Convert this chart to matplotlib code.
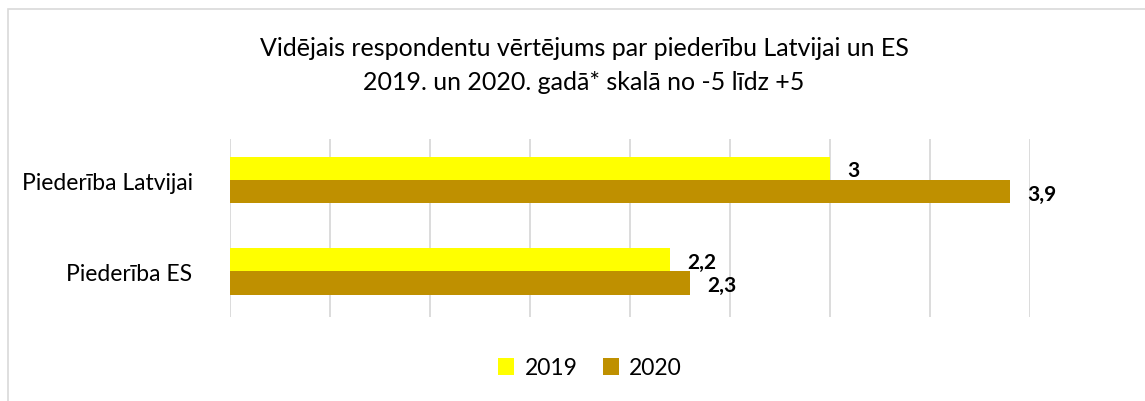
import numpy as np
import matplotlib.pyplot as plt
from matplotlib.patches import Rectangle

# data
categories = ["Piederība Latvijai", "Piederība ES"]
years = ["2019", "2020"]
values_2019 = [3.0, 2.2]
values_2020 = [3.9, 2.3]
colors = ["#FFFF00", "#BF9000"]

plt.rcParams['font.family'] = ['Lato', 'DejaVu Sans']

fig = plt.figure(figsize=(11.45, 4.02), dpi=100)
W, H = 1145, 402

# outer chart frame (runs off the right and bottom edges)
fig.patches.append(Rectangle((8 / W, -0.1), 1.2, 1.1 - 10 / H, transform=fig.transFigure,
                             fill=False, edgecolor="#d9d9d9", linewidth=1.2))

ax = fig.add_axes([230 / W, 1 - 318 / H, 800 / W, 178 / H])

y = np.arange(len(categories))
h = 0.255
series = [values_2019, values_2020]
for i, (vals, col, yr) in enumerate(zip(series, colors, years)):
    pos = y - h / 2 + i * h
    ax.barh(pos, vals, height=h, color=col, label=yr, zorder=3)
    for p, v in zip(pos, vals):
        txt = f"{v:g}".replace(".", ",")
        ax.text(v + 0.085, p + 0.02, txt, va="center", ha="left",
                fontsize=15, fontweight="bold", color="black")

ax.set_xlim(0, 4)
ax.set_ylim(1.5, -0.45)
ax.set_xticks(np.arange(0, 4.01, 0.5))
ax.xaxis.grid(True, color="#d9d9d9", linewidth=1.3, zorder=0)
ax.tick_params(axis="x", length=0, labelbottom=False)
ax.tick_params(axis="y", length=0, pad=27)
ax.set_yticks(y)
ax.set_yticklabels(categories, fontsize=16.5)
for s in ax.spines.values():
    s.set_visible(False)

fig.text(584 / W, 1 - 48 / H, "Vidējais respondentu vērtējums par piederību Latvijai un ES",
         ha="center", va="center", fontsize=18)
fig.text(584 / W, 1 - 83 / H, "2019. un 2020. gadā* skalā no -5 līdz +5",
         ha="center", va="center", fontsize=18)

fig.legend(loc="center", bbox_to_anchor=(590 / W, 1 - 369 / H), ncol=2, frameon=False,
           fontsize=16.5, handlelength=0.7, handleheight=0.7, columnspacing=1.1,
           handletextpad=0.45)

fig.savefig("out.png", dpi=100)
